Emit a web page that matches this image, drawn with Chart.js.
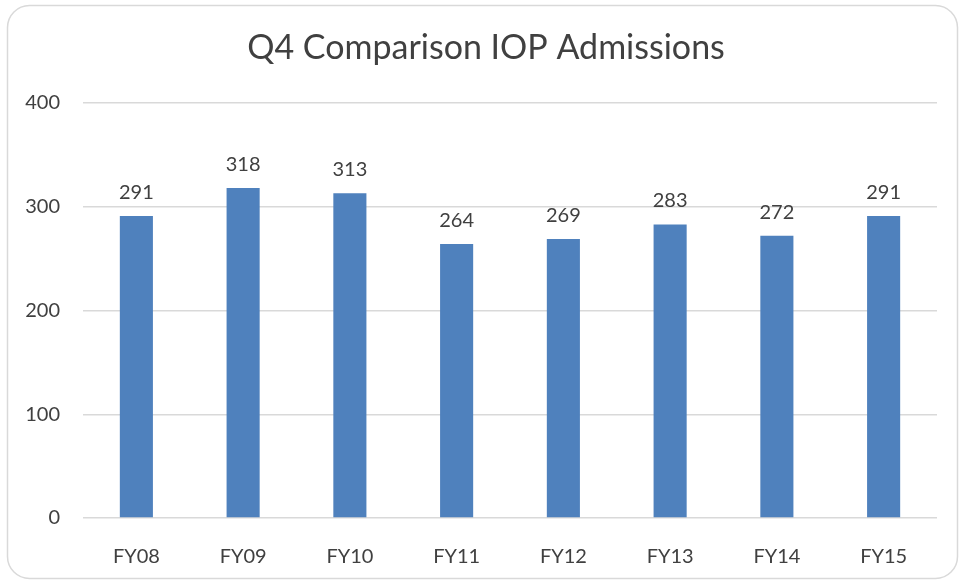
<!DOCTYPE html>
<html>
<head>
<meta charset="utf-8">
<script src="https://cdn.jsdelivr.net/npm/chart.js@4"></script>
<style>
  html, body { margin: 0; padding: 0; background: #fff; }
  #wrap { width: 960px; height: 581px; position: relative; }
</style>
</head>
<body>
<div id="wrap"><canvas id="chart" width="960" height="581"></canvas></div>
<script>
const categories = ['FY08', 'FY09', 'FY10', 'FY11', 'FY12', 'FY13', 'FY14', 'FY15'];
const admissions = [291, 318, 313, 264, 269, 283, 272, 291];
const yTicks = [0, 100, 200, 300, 400];
const chartTitle = 'Q4 Comparison IOP Admissions';

const textColor = '#404040';
const fontFamily = 'Lato, "Open Sans", sans-serif';

// rounded frame and title, like the Excel chart box
const framePlugin = {
    id: 'frame',
    beforeDraw(chart) {
        const ctx = chart.ctx;
        ctx.save();
        ctx.beginPath();
        ctx.roundRect(7.5, 5.5, 950, 573, 22);
        ctx.lineWidth = 1.5;
        ctx.strokeStyle = '#d9d9d9';
        ctx.stroke();

        ctx.fillStyle = textColor;
        ctx.font = '34px ' + fontFamily;
        ctx.textAlign = 'center';
        ctx.textBaseline = 'middle';
        ctx.fillText(chartTitle, 486, 48);
        ctx.restore();
    }
};

// value labels above each bar
const valueLabels = {
    id: 'valueLabels',
    afterDatasetsDraw(chart) {
        const ctx = chart.ctx;
        const meta = chart.getDatasetMeta(0);
        ctx.save();
        ctx.fillStyle = textColor;
        ctx.font = '20px ' + fontFamily;
        ctx.textAlign = 'center';
        ctx.textBaseline = 'alphabetic';
        meta.data.forEach((bar, i) => {
            ctx.fillText(chart.data.datasets[0].data[i], bar.x, bar.y - 17);
        });
        ctx.restore();
    }
};

new Chart(document.getElementById('chart').getContext('2d'), {
    type: 'bar',
    data: {
        labels: categories,
        datasets: [{
            label: 'IOP Admissions',
            data: admissions,
            backgroundColor: '#4f81bd',
            barPercentage: 0.31,
            categoryPercentage: 1
        }]
    },
    options: {
        responsive: false,
        animation: false,
        layout: { padding: { left: 0, right: 23, top: 103, bottom: 0 } },
        plugins: {
            legend: { display: false },
            tooltip: { enabled: false },
            title: { display: false }
        },
        scales: {
            x: {
                grid: { display: false },
                border: { display: false },
                ticks: { color: textColor, font: { family: fontFamily, size: 20 }, padding: 19 },
                afterFit: s => { s.height = 63; }
            },
            y: {
                min: 0,
                max: 400,
                afterBuildTicks: s => { s.ticks = yTicks.map(v => ({ value: v })); },
                grid: { color: '#d9d9d9', lineWidth: 1.5, drawTicks: false },
                border: { display: false },
                ticks: { color: textColor, font: { family: fontFamily, size: 20 }, padding: 23 },
                afterFit: s => { s.width = 83; }
            }
        }
    },
    plugins: [framePlugin, valueLabels]
});
</script>
</body>
</html>
